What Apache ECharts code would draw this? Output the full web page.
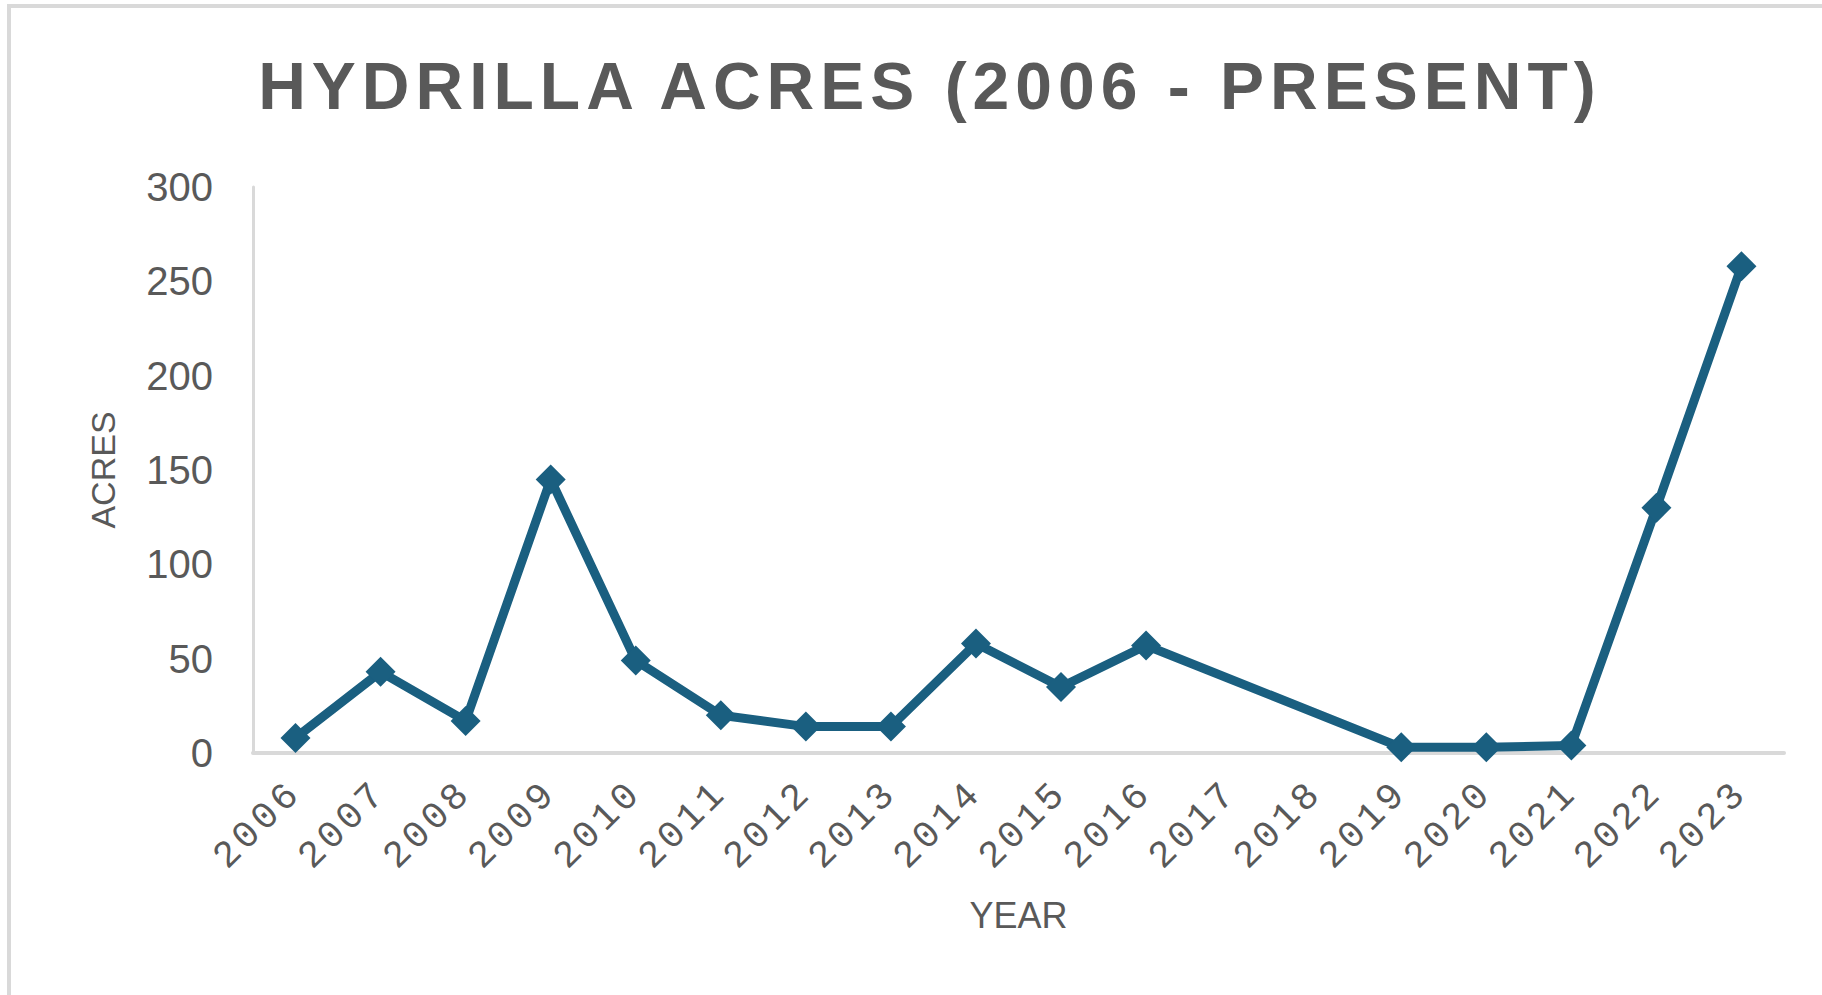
<!DOCTYPE html>
<html>
<head>
<meta charset="utf-8">
<script src="https://cdn.jsdelivr.net/npm/echarts@6/dist/echarts.min.js"></script>
<style>
  html, body { margin: 0; padding: 0; background: #ffffff; }
  #chart { width: 1822px; height: 995px; }
  /* letter spacing for the wide-tracked title and the year labels */
  #chart svg text[style*="66px"] { letter-spacing: 6px !important; }
  #chart svg text[style*="Liberation Mono"] { letter-spacing: 4px !important; }
</style>
</head>
<body>
<div id="chart"></div>
<script>
const titleText = 'HYDRILLA ACRES (2006 - PRESENT)';
const years = ['2006','2007','2008','2009','2010','2011','2012','2013','2014','2015','2016','2017','2018','2019','2020','2021','2022','2023'];
const acres = [8, 43, 17, 145, 49, 20, 14, 14, 58, 35, 57, null, null, 3, 3, 4, 130, 258];
const yTicks = { min: 0, max: 300, interval: 50 };
const xName = 'YEAR';
const yName = 'ACRES';

const chart = echarts.init(document.getElementById('chart'), null, { renderer: 'svg', width: 1822, height: 995 });

const gray = '#595959';
const axisGray = '#d9d9d9';
const lineColor = '#1a5f80';

chart.setOption({
  animation: false,
  backgroundColor: '#ffffff',
  title: {
    text: titleText,
    left: 925,
    top: 48,
    textAlign: 'center',
    textStyle: {
      fontFamily: "'Liberation Sans', Arial, sans-serif",
      fontSize: 66,
      fontWeight: 'bold',
      color: gray
    }
  },
  graphic: [
    { type: 'line', shape: { x1: 7, y1: 6, x2: 1822, y2: 6 }, style: { stroke: axisGray, lineWidth: 4 }, silent: true },
    { type: 'line', shape: { x1: 9, y1: 4, x2: 9, y2: 995 }, style: { stroke: axisGray, lineWidth: 4 }, silent: true }
  ],
  grid: { left: 253, right: 38, top: 187, bottom: 242, containLabel: false },
  xAxis: {
    type: 'category',
    data: years,
    boundaryGap: true,
    name: xName,
    nameLocation: 'middle',
    nameGap: 144,
    nameTextStyle: { fontFamily: "'Liberation Sans', Arial, sans-serif", fontSize: 36, color: gray },
    axisLine: { show: true, lineStyle: { color: axisGray, width: 4 } },
    axisTick: { show: false },
    axisLabel: {
      rotate: 45,
      margin: 34,
      interval: 0,
      fontFamily: "'Liberation Mono', 'Courier New', monospace",
      fontSize: 38,
      color: gray
    },
    splitLine: { show: false }
  },
  yAxis: {
    type: 'value',
    min: yTicks.min,
    max: yTicks.max,
    interval: yTicks.interval,
    name: yName,
    nameLocation: 'middle',
    nameGap: 133,
    nameRotate: 90,
    nameTextStyle: { fontFamily: "'Liberation Sans', Arial, sans-serif", fontSize: 34, color: gray },
    axisLine: { show: true, lineStyle: { color: axisGray, width: 3 } },
    axisTick: { show: false },
    axisLabel: {
      margin: 40,
      fontFamily: "'Liberation Sans', Arial, sans-serif",
      fontSize: 40,
      color: gray
    },
    splitLine: { show: false }
  },
  series: [{
    type: 'line',
    data: acres,
    connectNulls: true,
    symbol: 'diamond',
    symbolSize: 30,
    lineStyle: { color: lineColor, width: 9 },
    itemStyle: { color: lineColor },
    emphasis: { disabled: true }
  }]
});
</script>
</body>
</html>
